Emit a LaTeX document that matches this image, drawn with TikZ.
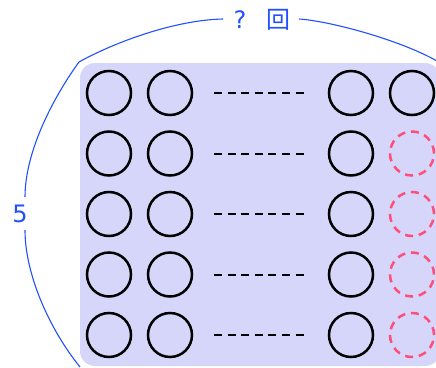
\documentclass[tikz,border=0pt]{standalone}
\usepackage{fontspec}
\setmainfont{DejaVu Sans}
\newfontfamily\cjkfont{Noto Sans CJK SC}
\definecolor{panelfill}{RGB}{214,214,250}
\definecolor{bracecol}{RGB}{34,80,255}
\definecolor{emptycol}{RGB}{255,78,122}
\tikzset{
  slot/.style={circle, draw=black, line width=2.5pt, minimum size=44pt, inner sep=0pt},
  emptyslot/.style={circle, draw=emptycol, line width=2.5pt, dash pattern=on 8pt off 5.8pt, minimum size=44pt, inner sep=0pt},
  gapline/.style={draw=black, line width=2pt, dash pattern=on 8pt off 5.6pt},
  brace/.style={draw=bracecol, line width=1.1pt},
  bracelabel/.style={text=bracecol, font=\fontsize{24}{24}\selectfont, inner sep=0pt}
}
\begin{document}
\begin{tikzpicture}[x=1pt, y=-1pt]
  \useasboundingbox (0,0) rectangle (436,367);
  % background panel
  \fill[panelfill, rounded corners=15pt] (80,63) rectangle (440,366);
  % grid of slots
  \foreach \r/\y in {1/93, 2/153.5, 3/214, 4/274.5, 5/335} {
    \node[slot] (a\r) at (109,\y) {};
    \node[slot] (b\r) at (170,\y) {};
    \node[slot] (c\r) at (351,\y) {};
    \coordinate (gs\r) at (214,\y);
    \coordinate (ge\r) at (307,\y);
    \draw[gapline] (gs\r) -- (ge\r);
  }
  \node[slot] (d1) at (412,93) {};
  \foreach \r/\y in {2/153.5, 3/214, 4/274.5, 5/335} {
    \node[emptyslot] (d\r) at (412,\y) {};
  }
  % dimension arcs with labels
  \coordinate (corner) at (79,62);
  \node[bracelabel] (qm) at (240,20) {?};
  \node[bracelabel] (hui) at (278,20) {\cjkfont 回};
  \node[bracelabel] (five) at (20,214) {5};
  \draw[brace] (corner) .. controls (115,42) and (175,20) .. (223,19);
  \draw[brace] (299,19) .. controls (330,21) and (400,40) .. (437,61);
  \draw[brace] (corner) .. controls (55,95) and (25,150) .. (25,197);
  \draw[brace] (25,230) .. controls (25,275) and (50,330) .. (80,367);
\end{tikzpicture}
\end{document}
